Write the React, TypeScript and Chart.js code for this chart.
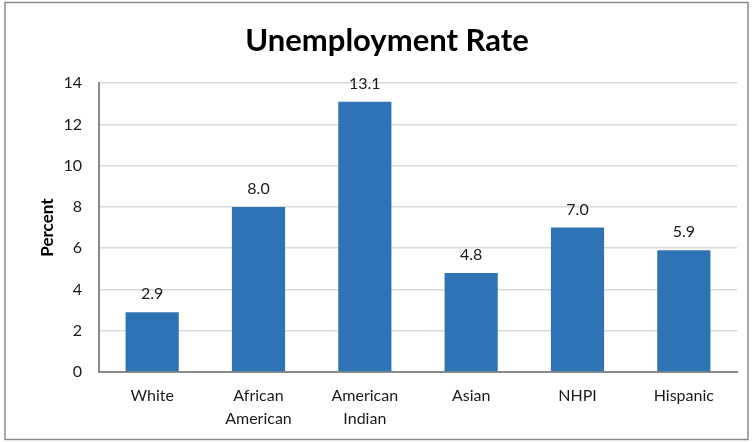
import React, { useEffect, useRef } from "react";
import { Chart, registerables } from "chart.js";

Chart.register(...registerables);

const categories: (string | string[])[] = [
  "White",
  ["African", "American"],
  ["American", "Indian"],
  "Asian",
  "NHPI",
  "Hispanic",
];
const rates = [2.9, 8.0, 13.1, 4.8, 7.0, 5.9];
const yTicks = [0, 2, 4, 6, 8, 10, 12, 14];

const FONT = "Lato, 'Open Sans', sans-serif";

const frame = {
  id: "frame",
  beforeDraw(chart: any) {
    const { ctx, width, height } = chart;
    ctx.save();
    ctx.fillStyle = "#ffffff";
    ctx.fillRect(0, 0, width, height);
    ctx.strokeStyle = "#8a8a8a";
    ctx.lineWidth = 1.5;
    ctx.strokeRect(5, 2.5, width - 11, height - 5);
    ctx.restore();
  },
};

const valueLabels = {
  id: "valueLabels",
  afterDatasetsDraw(chart: any) {
    const { ctx } = chart;
    const meta = chart.getDatasetMeta(0);
    ctx.save();
    ctx.font = `16px ${FONT}`;
    ctx.fillStyle = "#1a1a1a";
    ctx.textAlign = "center";
    ctx.textBaseline = "bottom";
    meta.data.forEach((bar: any, i: number) => {
      ctx.fillText(rates[i].toFixed(1), bar.x, bar.y - 10);
    });
    ctx.restore();
  },
};

export default function App() {
  const ref = useRef<HTMLCanvasElement>(null);
  useEffect(() => {
    document.body.style.margin = "0";
    const chart = new Chart(ref.current!, {
      type: "bar",
      data: {
        labels: categories,
        datasets: [
          {
            data: rates,
            backgroundColor: "#2e74b5",
            barPercentage: 0.5,
            categoryPercentage: 1,
          },
        ],
      },
      options: {
        animation: false,
        responsive: false,
        layout: { padding: { left: 37, right: 17, top: 22, bottom: 0 } },
        plugins: {
          legend: { display: false },
          tooltip: { enabled: false },
          title: {
            display: true,
            text: "Unemployment Rate",
            color: "#000000",
            font: { family: FONT, size: 31, weight: "bold", lineHeight: 1.2 },
            padding: { top: 0, bottom: 24 },
          },
        },
        scales: {
          x: {
            grid: { display: false, drawTicks: false },
            border: { color: "#8a8a8a", width: 2 },
            ticks: {
              color: "#1a1a1a",
              font: { family: FONT, size: 16, lineHeight: 1.4 },
              padding: 13,
              maxRotation: 0,
              autoSkip: false,
            },
            afterFit(scale: any) {
              scale.height = 70;
            },
          },
          y: {
            min: 0,
            max: 14,
            afterBuildTicks(scale: any) {
              scale.ticks = yTicks.map((v) => ({ value: v }));
            },
            grid: { color: "#d9d9d9", lineWidth: 1.5, drawTicks: false },
            border: { color: "#8a8a8a", width: 2 },
            ticks: {
              color: "#1a1a1a",
              font: { family: FONT, size: 16 },
              padding: 17,
            },
            title: {
              display: true,
              text: "Percent",
              color: "#000000",
              font: { family: FONT, size: 17, weight: "bold" },
              padding: 0,
            },
            afterFit(scale: any) {
              scale.width = 62;
            },
          },
        },
      },
      plugins: [frame, valueLabels],
    });
    return () => chart.destroy();
  }, []);
  return <canvas ref={ref} width={754} height={442} style={{ display: "block" }} />;
}
